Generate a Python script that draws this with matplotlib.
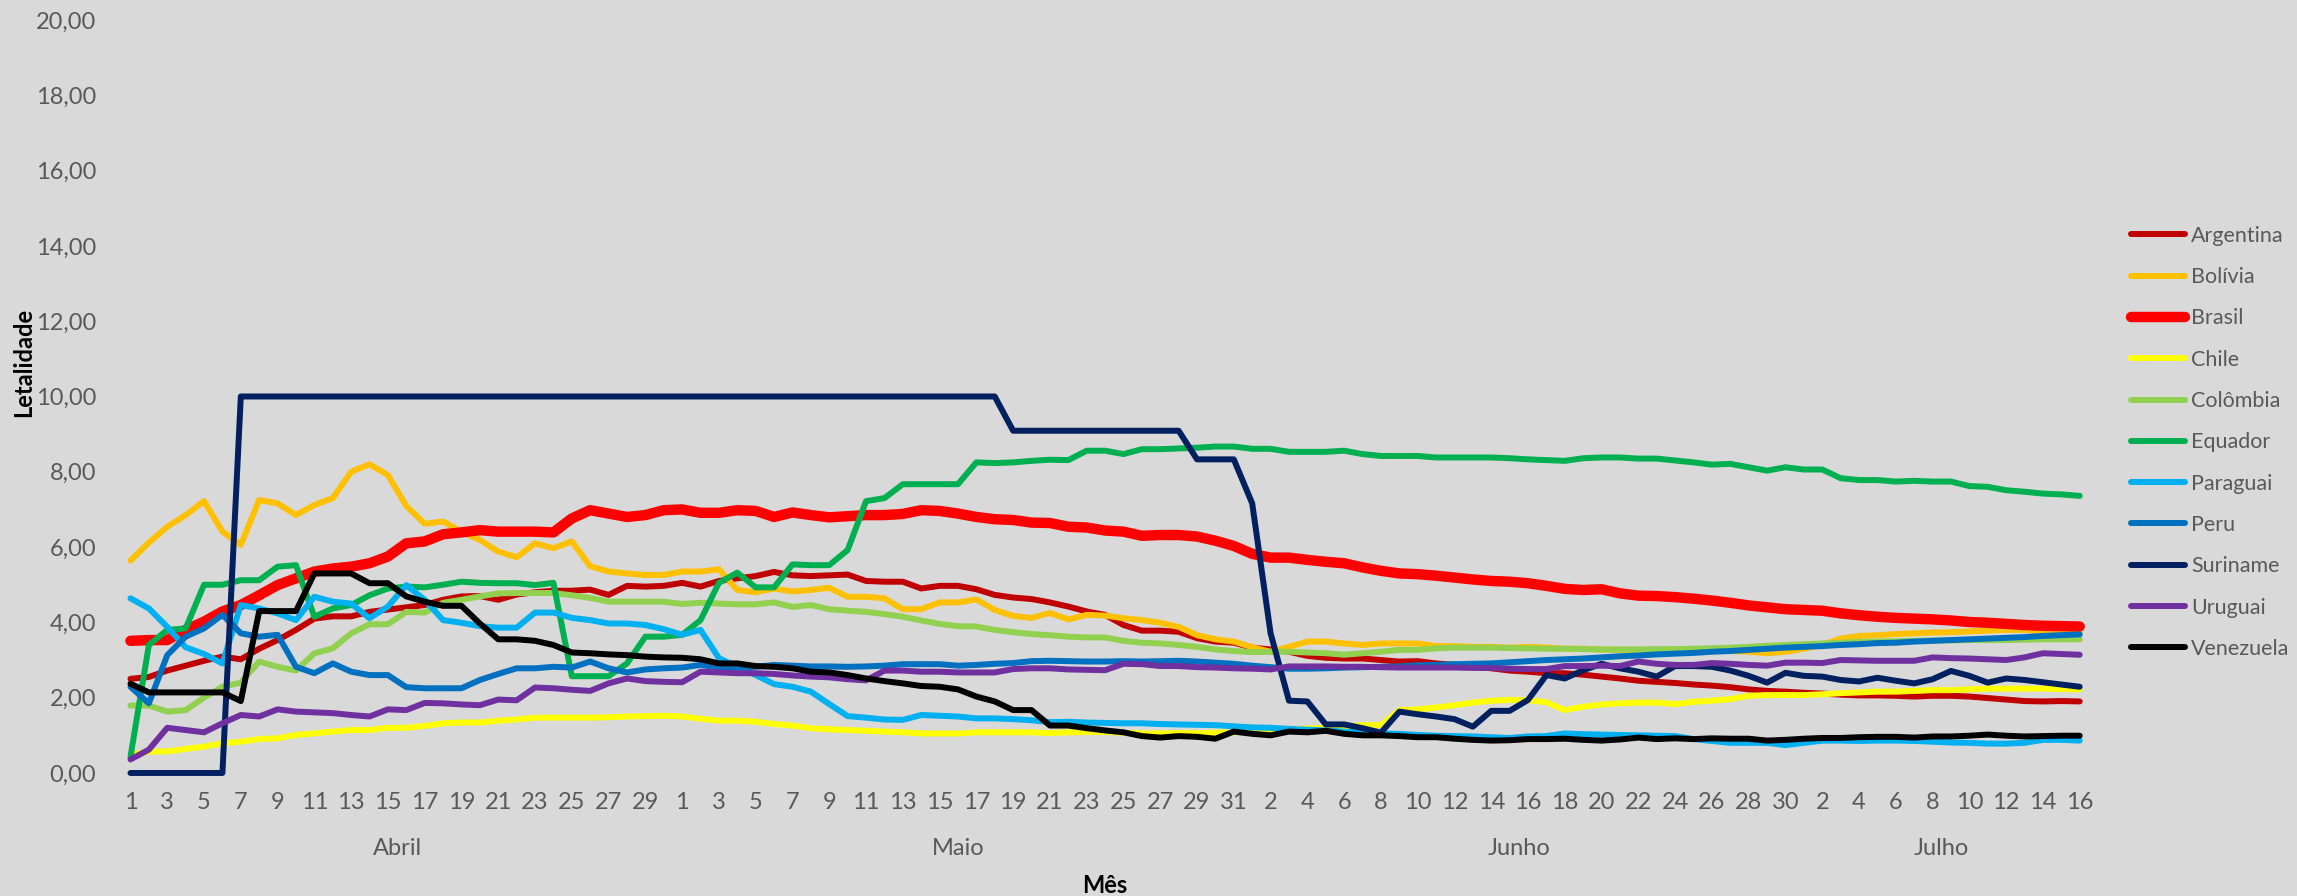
import numpy as np
import matplotlib.pyplot as plt
from matplotlib.transforms import blended_transform_factory

plt.rcParams['font.family'] = ['Lato', 'DejaVu Sans']

meses = ["Abril", "Maio", "Junho", "Julho"]
dias_por_mes = [30, 31, 30, 16]

argentina = [2.50, 2.55, 2.72, 2.85, 2.98, 3.09, 3.02, 3.30, 3.53, 3.80,
             4.10, 4.16, 4.16, 4.28, 4.34, 4.40, 4.46, 4.60, 4.69, 4.70,
             4.60, 4.74, 4.80, 4.84, 4.84, 4.87, 4.73, 4.97, 4.95, 4.97,
             5.05, 4.95, 5.10, 5.17, 5.23, 5.34, 5.25, 5.23, 5.25, 5.27,
             5.10, 5.08, 5.08, 4.90, 4.97, 4.97, 4.88, 4.73, 4.66, 4.62,
             4.53, 4.42, 4.29, 4.20, 3.93, 3.78, 3.78, 3.75, 3.58, 3.49,
             3.46, 3.33, 3.28, 3.22, 3.11, 3.06, 3.04, 3.04, 3.00, 2.96,
             2.97, 2.91, 2.87, 2.83, 2.78, 2.72, 2.69, 2.65, 2.65, 2.61,
             2.56, 2.51, 2.45, 2.42, 2.39, 2.35, 2.32, 2.28, 2.22, 2.18,
             2.16, 2.13, 2.11, 2.08, 2.06, 2.06, 2.05, 2.03, 2.05, 2.05,
             2.03, 1.99, 1.95, 1.91, 1.90, 1.91, 1.90]

bolivia = [5.64, 6.12, 6.54, 6.85, 7.22, 6.41, 6.06, 7.25, 7.16, 6.85,
           7.12, 7.30, 8.00, 8.20, 7.91, 7.09, 6.62, 6.68, 6.41, 6.19,
           5.88, 5.73, 6.10, 5.97, 6.15, 5.49, 5.35, 5.30, 5.26, 5.26,
           5.35, 5.35, 5.41, 4.86, 4.80, 4.90, 4.82, 4.86, 4.92, 4.68,
           4.68, 4.64, 4.35, 4.35, 4.53, 4.53, 4.61, 4.33, 4.17, 4.12,
           4.25, 4.08, 4.20, 4.18, 4.11, 4.06, 3.99, 3.88, 3.66, 3.55,
           3.49, 3.34, 3.22, 3.35, 3.49, 3.49, 3.44, 3.40, 3.44, 3.44,
           3.44, 3.37, 3.37, 3.35, 3.35, 3.33, 3.35, 3.33, 3.30, 3.30,
           3.28, 3.27, 3.27, 3.26, 3.26, 3.25, 3.25, 3.24, 3.22, 3.18,
           3.22, 3.30, 3.40, 3.57, 3.64, 3.66, 3.69, 3.71, 3.73, 3.74,
           3.76, 3.78, 3.80, 3.80, 3.75, 3.73, 3.71]

brasil = [3.51, 3.53, 3.53, 3.80, 4.02, 4.29, 4.46, 4.72, 4.99, 5.17,
          5.35, 5.43, 5.48, 5.57, 5.75, 6.10, 6.15, 6.34, 6.39, 6.45,
          6.41, 6.41, 6.41, 6.39, 6.76, 6.98, 6.89, 6.80, 6.85, 6.98,
          7.00, 6.91, 6.91, 6.98, 6.96, 6.80, 6.92, 6.85, 6.79, 6.82,
          6.85, 6.85, 6.88, 6.98, 6.96, 6.89, 6.80, 6.74, 6.72, 6.65,
          6.64, 6.54, 6.52, 6.44, 6.41, 6.30, 6.32, 6.32, 6.28, 6.17,
          6.03, 5.82, 5.72, 5.72, 5.66, 5.61, 5.57, 5.46, 5.37, 5.30,
          5.28, 5.24, 5.19, 5.14, 5.10, 5.08, 5.04, 4.97, 4.89, 4.86,
          4.88, 4.77, 4.71, 4.70, 4.67, 4.63, 4.58, 4.52, 4.45, 4.40,
          4.35, 4.33, 4.31, 4.24, 4.19, 4.15, 4.12, 4.10, 4.08, 4.05,
          4.01, 3.99, 3.96, 3.93, 3.91, 3.90, 3.89]

chile = [0.48, 0.57, 0.57, 0.64, 0.70, 0.79, 0.83, 0.90, 0.92, 1.01,
         1.05, 1.10, 1.14, 1.14, 1.20, 1.20, 1.25, 1.32, 1.34, 1.34,
         1.39, 1.42, 1.47, 1.47, 1.47, 1.47, 1.48, 1.50, 1.51, 1.52,
         1.50, 1.44, 1.39, 1.39, 1.36, 1.30, 1.26, 1.19, 1.16, 1.14,
         1.12, 1.10, 1.08, 1.05, 1.05, 1.05, 1.08, 1.08, 1.08, 1.08,
         1.06, 1.08, 1.09, 1.09, 1.07, 1.05, 1.05, 1.06, 1.06, 1.07,
         1.08, 1.13, 1.14, 1.16, 1.18, 1.20, 1.23, 1.27, 1.27, 1.67,
         1.69, 1.74, 1.80, 1.87, 1.92, 1.94, 1.93, 1.88, 1.67, 1.76,
         1.82, 1.85, 1.87, 1.87, 1.83, 1.89, 1.92, 1.96, 2.05, 2.07,
         2.07, 2.07, 2.09, 2.12, 2.14, 2.16, 2.16, 2.18, 2.20, 2.20,
         2.22, 2.24, 2.24, 2.24, 2.24, 2.23, 2.22]

colombia = [1.79, 1.79, 1.63, 1.67, 2.00, 2.29, 2.40, 2.96, 2.82, 2.72,
            3.18, 3.31, 3.71, 3.95, 3.95, 4.28, 4.26, 4.52, 4.60, 4.69,
            4.77, 4.78, 4.78, 4.78, 4.72, 4.65, 4.55, 4.55, 4.55, 4.55,
            4.49, 4.52, 4.50, 4.48, 4.48, 4.53, 4.41, 4.46, 4.35, 4.31,
            4.28, 4.22, 4.15, 4.05, 3.96, 3.90, 3.89, 3.80, 3.74, 3.69,
            3.66, 3.62, 3.60, 3.60, 3.51, 3.46, 3.44, 3.40, 3.35, 3.28,
            3.24, 3.21, 3.22, 3.22, 3.20, 3.18, 3.14, 3.18, 3.22, 3.27,
            3.27, 3.31, 3.33, 3.33, 3.33, 3.32, 3.31, 3.30, 3.30, 3.29,
            3.28, 3.28, 3.28, 3.29, 3.29, 3.30, 3.31, 3.33, 3.35, 3.38,
            3.40, 3.42, 3.44, 3.46, 3.48, 3.49, 3.50, 3.51, 3.52, 3.52,
            3.53, 3.53, 3.53, 3.54, 3.55, 3.55, 3.55]

equador = [0.43, 3.40, 3.80, 3.84, 5.00, 5.00, 5.12, 5.12, 5.48, 5.52,
           4.15, 4.37, 4.46, 4.72, 4.90, 4.95, 4.93, 5.00, 5.08, 5.05,
           5.04, 5.04, 4.99, 5.05, 2.57, 2.57, 2.57, 2.91, 3.62, 3.62,
           3.67, 4.06, 5.05, 5.32, 4.93, 4.93, 5.54, 5.52, 5.52, 5.92,
           7.22, 7.30, 7.67, 7.67, 7.67, 7.67, 8.25, 8.23, 8.25, 8.29,
           8.32, 8.31, 8.56, 8.56, 8.47, 8.60, 8.60, 8.62, 8.64, 8.67,
           8.67, 8.61, 8.61, 8.53, 8.53, 8.53, 8.56, 8.47, 8.42, 8.42,
           8.42, 8.38, 8.38, 8.38, 8.38, 8.36, 8.33, 8.31, 8.29, 8.36,
           8.38, 8.38, 8.35, 8.35, 8.30, 8.25, 8.19, 8.21, 8.12, 8.03,
           8.12, 8.06, 8.06, 7.83, 7.78, 7.78, 7.74, 7.76, 7.74, 7.74,
           7.62, 7.60, 7.51, 7.47, 7.42, 7.40, 7.36]

paraguai = [4.64, 4.37, 3.88, 3.34, 3.16, 2.91, 4.46, 4.37, 4.24, 4.06,
            4.68, 4.55, 4.50, 4.11, 4.42, 4.99, 4.60, 4.06, 3.99, 3.90,
            3.86, 3.86, 4.26, 4.26, 4.12, 4.06, 3.97, 3.97, 3.93, 3.82,
            3.67, 3.80, 3.05, 2.82, 2.60, 2.36, 2.29, 2.16, 1.83, 1.51,
            1.47, 1.42, 1.41, 1.54, 1.52, 1.50, 1.45, 1.45, 1.43, 1.40,
            1.35, 1.36, 1.34, 1.33, 1.32, 1.32, 1.30, 1.29, 1.28, 1.27,
            1.24, 1.21, 1.20, 1.17, 1.15, 1.13, 1.10, 1.07, 1.05, 1.04,
            1.01, 0.99, 0.98, 0.97, 0.95, 0.93, 0.97, 0.98, 1.05, 1.03,
            1.02, 1.01, 1.00, 0.99, 0.98, 0.90, 0.85, 0.80, 0.80, 0.80,
            0.74, 0.80, 0.86, 0.86, 0.85, 0.86, 0.86, 0.85, 0.83, 0.81,
            0.80, 0.78, 0.78, 0.80, 0.88, 0.88, 0.86]

peru = [2.29, 1.85, 3.13, 3.62, 3.84, 4.20, 3.71, 3.62, 3.67, 2.82,
        2.65, 2.91, 2.69, 2.60, 2.60, 2.28, 2.25, 2.25, 2.25, 2.47,
        2.63, 2.78, 2.78, 2.82, 2.80, 2.96, 2.78, 2.67, 2.75, 2.78,
        2.80, 2.87, 2.80, 2.80, 2.82, 2.87, 2.85, 2.83, 2.83, 2.82,
        2.83, 2.85, 2.89, 2.89, 2.89, 2.85, 2.87, 2.90, 2.92, 2.97,
        2.98, 2.97, 2.96, 2.96, 2.97, 2.96, 2.97, 2.98, 2.96, 2.93,
        2.90, 2.85, 2.81, 2.77, 2.77, 2.78, 2.80, 2.81, 2.82, 2.83,
        2.86, 2.87, 2.89, 2.90, 2.91, 2.94, 2.97, 3.00, 3.02, 3.04,
        3.07, 3.10, 3.12, 3.15, 3.17, 3.19, 3.22, 3.24, 3.27, 3.30,
        3.33, 3.35, 3.37, 3.40, 3.42, 3.45, 3.46, 3.49, 3.51, 3.53,
        3.55, 3.57, 3.59, 3.61, 3.64, 3.66, 3.68]

suriname = [0.00, 0.00, 0.00, 0.00, 0.00, 0.00, 10.0, 10.0, 10.0, 10.0,
            10.0, 10.0, 10.0, 10.0, 10.0, 10.0, 10.0, 10.0, 10.0, 10.0,
            10.0, 10.0, 10.0, 10.0, 10.0, 10.0, 10.0, 10.0, 10.0, 10.0,
            10.0, 10.0, 10.0, 10.0, 10.0, 10.0, 10.0, 10.0, 10.0, 10.0,
            10.0, 10.0, 10.0, 10.0, 10.0, 10.0, 10.0, 10.0, 9.09, 9.09,
            9.09, 9.09, 9.09, 9.09, 9.09, 9.09, 9.09, 9.09, 8.33, 8.33,
            8.33, 7.16, 3.71, 1.92, 1.90, 1.29, 1.29, 1.19, 1.07, 1.63,
            1.56, 1.50, 1.43, 1.23, 1.65, 1.65, 1.94, 2.60, 2.51, 2.73,
            2.90, 2.78, 2.69, 2.56, 2.84, 2.84, 2.82, 2.72, 2.58, 2.40,
            2.66, 2.58, 2.56, 2.47, 2.43, 2.53, 2.45, 2.38, 2.49, 2.71,
            2.58, 2.40, 2.51, 2.47, 2.41, 2.35, 2.29]

uruguai = [0.36, 0.62, 1.20, 1.14, 1.08, 1.32, 1.54, 1.50, 1.69, 1.63,
           1.61, 1.59, 1.54, 1.50, 1.69, 1.67, 1.86, 1.85, 1.82, 1.80,
           1.95, 1.93, 2.27, 2.25, 2.21, 2.18, 2.38, 2.51, 2.44, 2.42,
           2.41, 2.69, 2.67, 2.65, 2.65, 2.63, 2.59, 2.56, 2.54, 2.49,
           2.46, 2.72, 2.72, 2.69, 2.69, 2.67, 2.67, 2.67, 2.76, 2.78,
           2.78, 2.75, 2.74, 2.73, 2.90, 2.89, 2.84, 2.84, 2.81, 2.80,
           2.78, 2.77, 2.75, 2.83, 2.83, 2.83, 2.82, 2.82, 2.81, 2.80,
           2.80, 2.80, 2.80, 2.79, 2.79, 2.77, 2.76, 2.76, 2.84, 2.84,
           2.85, 2.84, 2.96, 2.90, 2.87, 2.87, 2.92, 2.90, 2.87, 2.85,
           2.93, 2.93, 2.92, 3.00, 2.99, 2.98, 2.98, 2.98, 3.07, 3.05,
           3.04, 3.02, 3.00, 3.07, 3.18, 3.16, 3.14]

venezuela = [2.37, 2.14, 2.14, 2.14, 2.14, 2.14, 1.91, 4.30, 4.30, 4.30,
             5.30, 5.30, 5.30, 5.04, 5.04, 4.69, 4.55, 4.44, 4.44, 3.97,
             3.55, 3.55, 3.51, 3.40, 3.20, 3.18, 3.15, 3.13, 3.09, 3.07,
             3.06, 3.02, 2.91, 2.91, 2.84, 2.82, 2.78, 2.69, 2.67, 2.60,
             2.51, 2.44, 2.38, 2.31, 2.29, 2.22, 2.03, 1.90, 1.67, 1.67,
             1.26, 1.26, 1.19, 1.13, 1.08, 0.98, 0.94, 0.98, 0.96, 0.91,
             1.10, 1.04, 1.00, 1.10, 1.08, 1.12, 1.04, 1.00, 1.00, 0.98,
             0.95, 0.95, 0.91, 0.88, 0.86, 0.87, 0.90, 0.90, 0.91, 0.88,
             0.86, 0.89, 0.94, 0.90, 0.92, 0.90, 0.92, 0.91, 0.91, 0.86,
             0.88, 0.91, 0.93, 0.93, 0.95, 0.96, 0.96, 0.94, 0.97, 0.97,
             0.99, 1.02, 0.99, 0.97, 0.98, 0.99, 0.99]

paises = ["Argentina", "Bolívia", "Brasil", "Chile", "Colômbia", "Equador",
          "Paraguai", "Peru", "Suriname", "Uruguai", "Venezuela"]
series = [argentina, bolivia, brasil, chile, colombia, equador,
          paraguai, peru, suriname, uruguai, venezuela]
cores = ["#C00000", "#FFC000", "#FF0000", "#FFFF00", "#92D050", "#00B050",
         "#00B0F0", "#0070C0", "#002060", "#7030A0", "#000000"]

FUNDO = "#D9D9D9"
CINZA = "#595959"

dias = [d for n in dias_por_mes for d in range(1, n + 1)]
x = np.arange(len(dias))

fig = plt.figure(figsize=(22.97, 8.96), dpi=100, facecolor=FUNDO)
ax = fig.add_axes([0.0528, 0.1373, 0.8566, 0.8404])
ax.set_facecolor(FUNDO)

for nome, valores, cor in zip(paises, series, cores):
    lw = 7.5 if nome == "Brasil" else 4.3
    ax.plot(x, valores, color=cor, lw=lw, label=nome,
            solid_capstyle="round", solid_joinstyle="round", clip_on=False)

ax.set_xlim(-0.5, len(dias) - 0.5)
ax.set_ylim(0, 20)
yt = np.arange(0, 21, 2)
ax.set_yticks(yt)
ax.set_yticklabels([f"{v:.2f}".replace(".", ",") for v in yt])
ax.set_xticks(x[::2])
ax.set_xticklabels([str(d) for d in dias[::2]])
ax.tick_params(axis="both", length=0, labelsize=17, colors=CINZA)
ax.tick_params(axis="y", pad=18)
ax.tick_params(axis="x", pad=14)
for s in ax.spines.values():
    s.set_visible(False)

# nomes dos meses centrados em cada bloco de dias
trans = blended_transform_factory(ax.transData, ax.transAxes)
inicio = 0
for mes, n in zip(meses, dias_por_mes):
    ax.text(inicio + (n - 1) / 2, -0.10, mes, transform=trans,
            ha="center", va="center", fontsize=17, color=CINZA)
    inicio += n

ax.text(0.5, -0.149, "Mês", transform=ax.transAxes, ha="center", va="center",
        fontsize=17, fontweight="bold", color="black")
ax.text(-0.0498, 0.545, "Letalidade", transform=ax.transAxes, rotation=90,
        ha="center", va="center", fontsize=17, fontweight="bold", color="black")

fig.legend(loc="upper left", bbox_to_anchor=(0.9277, 0.748), frameon=False,
           fontsize=15.5, labelcolor=CINZA, handlelength=2.5, handletextpad=0.3,
           labelspacing=0.99, borderpad=0, borderaxespad=0)

fig.savefig("out.png", dpi=100, facecolor=FUNDO)
